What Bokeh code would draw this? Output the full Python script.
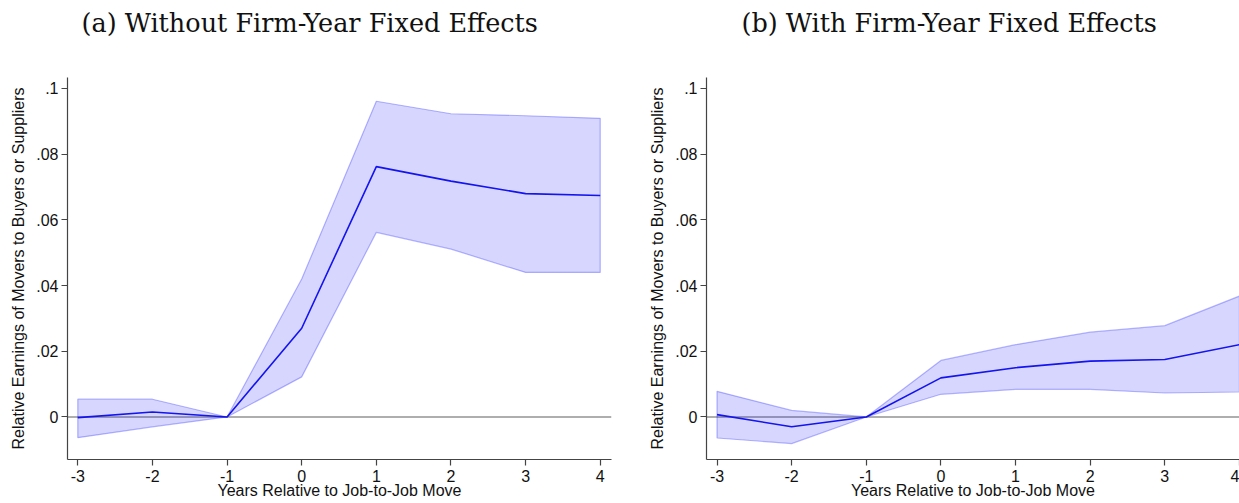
from bokeh.plotting import figure
from bokeh.models import Range1d, FixedTicker, Span, Title
from bokeh.layouts import row
from bokeh.embed import file_html
from bokeh.resources import INLINE

# ---------------- data ----------------
years = [-3, -2, -1, 0, 1, 2, 3, 4]

est_a = [-0.0002, 0.0015, 0.0, 0.0270, 0.0762, 0.0718, 0.0680, 0.0674]
hi_a = [0.0054, 0.0054, 0.0, 0.0420, 0.0961, 0.0923, 0.0917, 0.0909]
lo_a = [-0.0063, -0.0030, 0.0, 0.0122, 0.0562, 0.0511, 0.0440, 0.0440]

est_b = [0.0007, -0.0030, 0.0, 0.0119, 0.0150, 0.0170, 0.0175, 0.0220]
hi_b = [0.0078, 0.0020, 0.0, 0.0172, 0.0220, 0.0258, 0.0278, 0.0368]
lo_b = [-0.0064, -0.0081, 0.0, 0.0069, 0.0084, 0.0084, 0.0073, 0.0076]

y_ticks = [0.0, 0.02, 0.04, 0.06, 0.08, 0.1]
y_tick_labels = ["0", ".02", ".04", ".06", ".08", ".1"]
x_ticks = years
x_tick_labels = ["-3", "-2", "-1", "0", "1", "2", "3", "4"]

title_a = "(a) Without Firm-Year Fixed Effects"
title_b = "(b) With Firm-Year Fixed Effects"
x_label = "Years Relative to Job-to-Job Move"
y_label = "Relative Earnings of Movers to Buyers or Suppliers"

SANS = "Liberation Sans"
SERIF = "DejaVu Serif"


def make_panel(title, est, hi, lo, width, mbl, mbr, xr, title_offset):
    p = figure(width=width, height=503, output_backend="svg", toolbar_location=None,
               x_range=Range1d(*xr), y_range=Range1d(-0.01295, 0.10334),
               min_border_left=mbl, min_border_right=mbr,
               min_border_top=77, min_border_bottom=44, title=title)
    p.title.text_font = SERIF
    p.title.text_font_size = "25.5px"
    p.title.text_font_style = "normal"
    p.title.text_color = "#111111"
    p.title.align = "left"
    p.title.offset = title_offset
    p.title.vertical_align = "bottom"
    p.title.standoff = 0
    # empty spacer between the title and the plot frame
    p.add_layout(Title(text=" ", text_font_size="1px", standoff=37), "above")

    p.outline_line_color = None
    p.xgrid.visible = False
    p.ygrid.visible = False
    p.background_fill_color = "white"
    p.border_fill_color = "white"

    zero = Span(location=0, dimension="width", line_color="#939393", line_width=1.6,
                level="underlay")
    p.add_layout(zero)

    xs = years + years[::-1]
    ys = hi + lo[::-1]
    p.patch(xs, ys, fill_color="#0000ff", fill_alpha=0.16,
            line_color="#0000ff", line_alpha=0.28, line_width=1.2)
    p.line(years, est, line_color="#1414f0", line_width=1.6)

    for ax in (p.xaxis[0], p.yaxis[0]):
        ax.axis_line_color = "#444444"
        ax.axis_line_width = 1.2
        ax.major_tick_line_color = "#444444"
        ax.major_tick_line_width = 1.2
        ax.major_tick_in = 0
        ax.major_tick_out = 6
        ax.minor_tick_line_color = None
        ax.major_label_text_font = SANS
        ax.major_label_text_font_size = "16px"
        ax.major_label_text_color = "#111111"
        ax.axis_label_text_font = SANS
        ax.axis_label_text_font_size = "16px"
        ax.axis_label_text_font_style = "normal"
        ax.axis_label_text_color = "#111111"

    p.xaxis.ticker = FixedTicker(ticks=x_ticks)
    p.xaxis.major_label_overrides = dict(zip(x_ticks, x_tick_labels))
    p.xaxis.axis_label = x_label
    p.xaxis.major_label_standoff = 4
    p.xaxis.axis_label_standoff = -3

    p.yaxis.ticker = FixedTicker(ticks=y_ticks)
    p.yaxis.major_label_overrides = dict(zip(y_ticks, y_tick_labels))
    p.yaxis.axis_label = y_label
    p.yaxis.major_label_standoff = 3
    p.yaxis.axis_label_standoff = 6
    return p


p1 = make_panel(title_a, est_a, hi_a, lo_a, 630, 67, 19, (-3.138, 4.151), 14)
p2 = make_panel(title_b, est_b, hi_b, lo_b, 609, 76, 0, (-3.141, 4.001), 35)

layout = row(p1, p2)
open("out.html", "w").write(file_html(layout, INLINE))
